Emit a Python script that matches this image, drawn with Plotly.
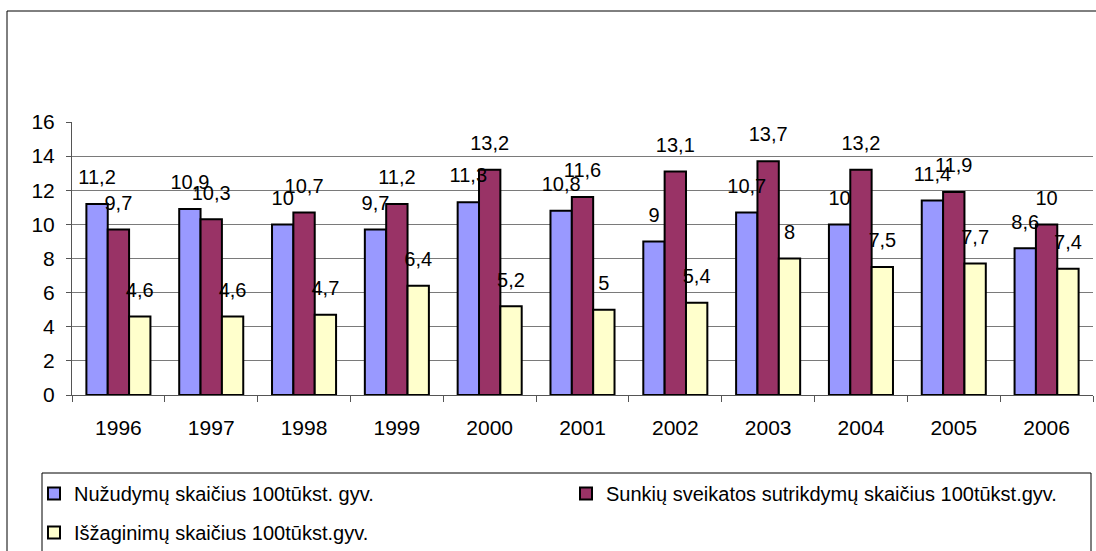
import plotly.graph_objects as go

years = ['1996', '1997', '1998', '1999', '2000', '2001', '2002', '2003', '2004', '2005', '2006']
nuzudymai = [11.2, 10.9, 10, 9.7, 11.3, 10.8, 9, 10.7, 10, 11.4, 8.6]
sutrikdymai = [9.7, 10.3, 10.7, 11.2, 13.2, 11.6, 13.1, 13.7, 13.2, 11.9, 10]
isprievartavimai = [4.6, 4.6, 4.7, 6.4, 5.2, 5, 5.4, 8, 7.5, 7.7, 7.4]

series = [
    ('Nužudymų skaičius 100tūkst. gyv.', nuzudymai, '#9999FF', 'legend'),
    ('Sunkių sveikatos sutrikdymų skaičius 100tūkst.gyv.', sutrikdymai, '#993366', 'legend'),
    ('Išžaginimų skaičius 100tūkst.gyv.', isprievartavimai, '#FFFFCC', 'legend2'),
]

FONT = 'Liberation Sans, Arial, sans-serif'
W, H = 1096, 551
L, R, T, B = 72, 3, 122, 156
pw = W - L - R
ph = H - T - B


def px_x(p):
    return (p - L) / pw


def px_y(p):
    return (T + ph - p) / ph


def lt(v):
    # Excel style decimal comma
    return str(v).replace('.', ',')


fig = go.Figure()
for i, (name, vals, color, leg) in enumerate(series):
    fig.add_trace(go.Bar(
        x=years, y=vals, name=name,
        offsetgroup=str(i),
        legend=leg,
        marker=dict(color=color, line=dict(color='#000000', width=2)),
        hoverinfo='x+y+name',
    ))

# data labels sit ~20px above the bars, like in Excel
for i, (name, vals, color, leg) in enumerate(series):
    fig.add_trace(go.Scatter(
        x=years, y=vals,
        mode='markers+text',
        offsetgroup=str(i),
        text=[lt(v) for v in vals],
        textposition='top center',
        textfont=dict(size=20, color='#000000', family=FONT),
        marker=dict(size=22, opacity=0),
        showlegend=False,
        hoverinfo='skip',
        cliponaxis=False,
    ))

legend_common = dict(
    orientation='h',
    xref='paper', yref='paper',
    xanchor='left', yanchor='top',
    borderwidth=0,
    bgcolor='rgba(0,0,0,0)',
    font=dict(size=20, family=FONT),
    entrywidth=487,
    traceorder='normal',
)

fig.update_layout(
    width=W, height=H,
    margin=dict(l=L, r=R, t=T, b=B, autoexpand=False),
    paper_bgcolor='white',
    plot_bgcolor='white',
    font=dict(family=FONT, size=20, color='#000000'),
    barmode='group',
    bargap=0.31,
    bargroupgap=0,
    scattermode='group',
    scattergap=0.31,
    xaxis=dict(
        type='category',
        range=[-0.5, len(years) - 0.5],
        showgrid=False,
        showline=True, linecolor='#555555', linewidth=1,
        ticks='outside', tickson='boundaries', ticklen=6, tickcolor='#555555',
        ticklabelstandoff=14,
        tickfont=dict(size=21),
    ),
    yaxis=dict(
        range=[0, 16],
        dtick=2,
        showgrid=True, gridcolor='#7a7a7a', gridwidth=1,
        zeroline=False,
        showline=True, linecolor='#555555', linewidth=1,
        ticks='outside', ticklen=5, tickcolor='#555555',
        ticklabelstandoff=7,
        tickfont=dict(size=21),
    ),
    legend=dict(legend_common, x=px_x(34), y=px_y(474)),
    legend2=dict(legend_common, x=px_x(34), y=px_y(513)),
    showlegend=True,
    shapes=[
        # outer chart border (runs off the right and bottom edge)
        dict(type='rect', xref='paper', yref='paper',
             x0=px_x(7), x1=px_x(W + 20), y0=px_y(H + 20), y1=px_y(11),
             line=dict(color='#000000', width=1), layer='below'),
        # legend box
        dict(type='rect', xref='paper', yref='paper',
             x0=px_x(42), x1=px_x(1091), y0=px_y(H + 20), y1=px_y(473),
             line=dict(color='#000000', width=1), layer='below'),
    ],
)

fig.write_html(
    'out.html',
    config={'displayModeBar': False},
    post_script="document.body.style.margin='0';document.body.style.overflow='hidden';",
)
